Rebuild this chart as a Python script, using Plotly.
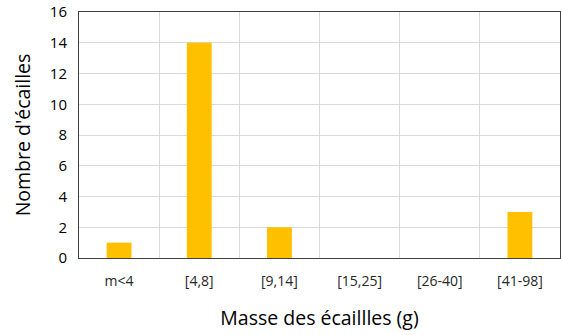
import plotly.graph_objects as go

# Scale mass classes and the number of scales in each
categories = ["m<4", "[4,8]", "[9,14]", "[15,25]", "[26-40]", "[41-98]"]
counts = [1, 14, 2, 0, 0, 3]
y_ticks = [0, 2, 4, 6, 8, 10, 12, 14, 16]

FONT = "Open Sans, Liberation Sans, sans-serif"

fig = go.Figure(
    go.Bar(
        x=categories,
        y=counts,
        marker=dict(color="#FFC000", line=dict(width=0)),
    )
)

fig.update_layout(
    width=561,
    height=335,
    margin=dict(l=79, r=1, t=12, b=77),
    paper_bgcolor="white",
    plot_bgcolor="white",
    bargap=0.69,
    showlegend=False,
    font=dict(family=FONT, color="#404040"),
)

fig.update_xaxes(
    type="category",
    tickson="boundaries",
    showgrid=True,
    gridcolor="#D9D9D9",
    gridwidth=1,
    ticks="",
    ticklen=0,
    showline=True,
    mirror=True,
    linecolor="#404040",
    linewidth=1,
    ticklabelstandoff=10,
    tickfont=dict(size=14, family=FONT, color="#262626"),
    title=dict(text="Masse des écaillles (g)", font=dict(size=19.5, family=FONT, color="#000000"), standoff=22),
)

fig.update_yaxes(
    range=[0, 16],
    tickvals=y_ticks,
    showgrid=True,
    gridcolor="#D9D9D9",
    gridwidth=1,
    zeroline=False,
    ticks="",
    showline=True,
    mirror=True,
    linecolor="#404040",
    linewidth=1,
    ticklabelstandoff=8,
    tickfont=dict(size=15, family=FONT, color="#000000"),
    title=dict(text="Nombre d'écailles", font=dict(size=19.5, family=FONT, color="#000000"), standoff=14),
)

fig.write_html("out.html")
